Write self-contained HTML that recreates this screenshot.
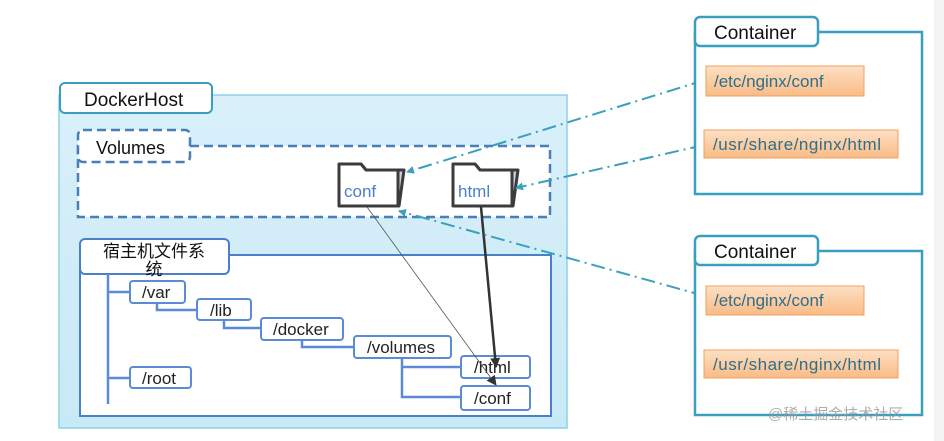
<!DOCTYPE html>
<html><head><meta charset="utf-8"><style>
html,body{margin:0;padding:0;background:#fff;width:944px;height:441px;overflow:hidden}
text{font-family:"Liberation Sans","Noto Sans CJK SC",sans-serif}
</style></head><body>
<svg width="944" height="441" viewBox="0 0 944 441" xmlns="http://www.w3.org/2000/svg">
<defs>
<linearGradient id="bg" x1="0" y1="0" x2="0" y2="1"><stop offset="0" stop-color="#d9f0fa"/><stop offset="1" stop-color="#c8e9f6"/></linearGradient>
<linearGradient id="or" x1="0" y1="0" x2="0" y2="1"><stop offset="0" stop-color="#fde0c4"/><stop offset="1" stop-color="#f9bb86"/></linearGradient>
<marker id="ab" markerWidth="8" markerHeight="8" refX="7" refY="4" orient="auto" markerUnits="userSpaceOnUse"><path d="M0,0 L8,4 L0,8 z" fill="#3aa0bb"/></marker>
<marker id="ak" markerWidth="10" markerHeight="10" refX="9" refY="5" orient="auto" markerUnits="userSpaceOnUse"><path d="M0,0 L10,5 L0,10 z" fill="#333"/></marker>
</defs>
<rect x="934" y="0" width="10" height="441" fill="#f4f4f4"/>
<rect x="59" y="95" width="508" height="333" fill="url(#bg)" stroke="#8fd0e6" stroke-width="1.5"/>
<rect x="60" y="83" width="152" height="30" rx="5" fill="#fff" stroke="#3a9ec0" stroke-width="2"/>
<text x="84" y="106" font-size="19" fill="#111">DockerHost</text>
<rect x="78" y="146" width="472" height="71" fill="#fff" stroke="#4a7fb5" stroke-width="2.5" stroke-dasharray="9,5"/>
<rect x="78" y="130" width="112" height="32" rx="5" fill="#fff" stroke="#4a7fb5" stroke-width="2.5" stroke-dasharray="9,5"/>
<text x="96" y="154" font-size="18" fill="#111">Volumes</text>
<g stroke="#3c3c3c" stroke-width="3" stroke-linejoin="round">
<path d="M341,164 h20 l5,6 h38 l-5,36 h-58 z" fill="#c9cde8"/>
<path d="M339,164 h22 l5,6 h32 v36 h-59 z" fill="#fff"/>
<path d="M455,164 h20 l5,6 h38 l-5,36 h-58 z" fill="#c9cde8"/>
<path d="M453,164 h22 l5,6 h32 v36 h-59 z" fill="#fff"/>
</g>
<text x="344" y="197" font-size="17" fill="#4a7fc9">conf</text>
<text x="458" y="197" font-size="17" fill="#4a7fc9">html</text>
<rect x="80" y="255" width="471" height="161" fill="#fff" stroke="#4a7fc9" stroke-width="2"/>
<rect x="80" y="239" width="149" height="35" rx="5" fill="#fff" stroke="#4a7fc9" stroke-width="2"/>
<text x="154" y="257" font-size="17" fill="#111" text-anchor="middle">宿主机文件系</text>
<text x="154" y="275" font-size="17" fill="#111" text-anchor="middle">统</text>
<g stroke="#5b8ad6" stroke-width="2.5" fill="none">
<path d="M108,274 V404 M108,292 H130 M108,378 H130"/>
<path d="M157,303 V310 H197"/>
<path d="M224,320 V328 H261"/>
<path d="M302,340 V347 H354"/>
<path d="M402,358 V397 H461 M402,367 H461"/>
</g>
<g stroke="#5b8ad6" stroke-width="2" fill="#fff">
<rect x="130" y="281" width="55" height="22" rx="3"/>
<rect x="197" y="299" width="54" height="21" rx="3"/>
<rect x="261" y="318" width="82" height="22" rx="3"/>
<rect x="354" y="336" width="97" height="22" rx="3"/>
<rect x="461" y="356" width="69" height="22" rx="3"/>
<rect x="461" y="386" width="69" height="24" rx="3"/>
<rect x="130" y="367" width="61" height="21" rx="3"/>
</g>
<g font-size="17" fill="#222">
<text x="142" y="298">/var</text>
<text x="210" y="316">/lib</text>
<text x="273" y="335">/docker</text>
<text x="367" y="353">/volumes</text>
<text x="474" y="373">/html</text>
<text x="474" y="404">/conf</text>
<text x="142" y="384">/root</text>
</g>
<line x1="367" y1="207" x2="496" y2="385" stroke="#555" stroke-width="0.8" marker-end="url(#ak)"/>
<line x1="481" y1="207" x2="496" y2="367" stroke="#333" stroke-width="2.5" marker-end="url(#ak)"/>
<g stroke="#3aa0bb" stroke-width="2" stroke-dasharray="14,5,2,5" fill="none">
<line x1="705" y1="80" x2="407" y2="172" marker-end="url(#ab)"/>
<line x1="704" y1="145" x2="516" y2="188" marker-end="url(#ab)"/>
<line x1="705" y1="296" x2="399" y2="211" marker-end="url(#ab)"/>
</g>
<g>
<rect x="695" y="32" width="227" height="162" fill="#fff" stroke="#3a9ec0" stroke-width="2.5"/>
<rect x="695" y="17" width="123" height="29" rx="5" fill="#fff" stroke="#3a9ec0" stroke-width="2.5"/>
<text x="714" y="39" font-size="19" fill="#111">Container</text>
<rect x="706" y="66" width="158" height="30" fill="url(#or)" stroke="#f0a060"/>
<text x="714" y="87" font-size="17" fill="#2e6f8a">/etc/nginx/conf</text>
<rect x="704" y="130" width="194" height="28" fill="url(#or)" stroke="#f0a060"/>
<text x="713" y="150" font-size="17" fill="#2e6f8a" textLength="168">/usr/share/nginx/html</text>
</g>
<g>
<rect x="695" y="251" width="227" height="164" fill="#fff" stroke="#3a9ec0" stroke-width="2.5"/>
<rect x="695" y="236" width="123" height="29" rx="5" fill="#fff" stroke="#3a9ec0" stroke-width="2.5"/>
<text x="714" y="258" font-size="19" fill="#111">Container</text>
<rect x="706" y="286" width="158" height="29" fill="url(#or)" stroke="#f0a060"/>
<text x="714" y="306" font-size="17" fill="#2e6f8a">/etc/nginx/conf</text>
<rect x="704" y="350" width="194" height="28" fill="url(#or)" stroke="#f0a060"/>
<text x="713" y="370" font-size="17" fill="#2e6f8a" textLength="168">/usr/share/nginx/html</text>
</g>
<text x="768" y="419" font-size="15" fill="#999" fill-opacity="0.8">@稀土掘金技术社区</text>
</svg>
</body></html>
